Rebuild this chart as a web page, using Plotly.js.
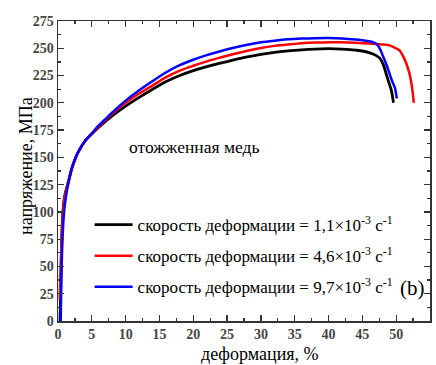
<!DOCTYPE html>
<html>
<head>
<meta charset="utf-8">
<script src="https://cdn.plot.ly/plotly-3.0.1.min.js"></script>
<style>html,body{margin:0;padding:0;background:#fff;}#chart{width:436px;height:365px;}</style>
</head>
<body>
<div id="chart"></div>
<script>
// strain (%) and stress (MPa) for each strain rate
const strainBlack = [0.3, 0.4, 0.5, 0.6, 0.8, 1.0, 1.5, 2.0, 2.5, 3.0, 4.0, 5.0, 6.0, 8.0, 10, 12, 14, 16, 18, 20, 22, 24, 26, 28, 30, 32, 34, 36, 38, 40, 42, 43.2, 44, 45, 46, 47, 47.6, 48.1, 48.5, 48.9, 49.3, 49.6];
const stressBlack = [0, 30, 60, 85, 105, 115, 127, 139, 148, 155, 165, 171.5, 177.5, 188, 197, 205, 212.5, 219.5, 225, 229.5, 233.2, 236.3, 239.4, 242.2, 244.5, 246.3, 247.6, 248.6, 249.3, 249.6, 249.3, 248.8, 248.3, 247.5, 246, 243.5, 240.8, 235, 227, 219, 211, 200];

const strainRed = [0.25, 0.4, 0.6, 0.8, 1.0, 1.5, 2.0, 2.5, 3.0, 4.0, 5.0, 6.0, 8.0, 10, 12, 14, 16, 18, 20, 22, 24, 26, 28, 30, 32, 34, 36, 38, 40, 42, 44, 46, 48, 49, 49.8, 50.5, 51, 51.5, 52, 52.25, 52.45, 52.6];
const stressRed = [20, 50, 85, 105, 114, 127, 139, 148, 155, 165, 171.5, 178, 190, 200, 208.5, 216, 223.5, 229.5, 234, 238, 241.5, 244.8, 247.8, 250.3, 252.2, 253.5, 254.5, 255.2, 255.6, 255.5, 255, 254.3, 253.5, 252.7, 250.5, 248, 243, 236, 226, 218, 209, 200];

const strainBlue = [0.4, 0.5, 0.7, 0.9, 1.2, 1.6, 2.0, 2.5, 3.0, 4.0, 5.0, 6.0, 7.0, 8.0, 10, 12, 14, 16, 18, 20, 22, 24, 26, 28, 30, 32, 34, 36, 38, 40, 42, 44, 45, 46, 46.6, 47.1, 47.6, 48.0, 48.5, 49.0, 49.4, 49.8, 50.1];
const stressBlue = [0, 40, 80, 100, 115, 128, 139, 148, 155, 165, 172, 179, 185, 191, 202, 211.5, 220, 228, 234.5, 239.5, 243.7, 247.3, 250.5, 253.2, 255.5, 257, 258.2, 258.9, 259.3, 259.4, 259, 258, 257.3, 256.5, 255.5, 254, 249.5, 243.6, 236, 227, 220, 214, 204];

const seriesNames = [
  'скорость деформации = 1,1×10<sup>-3</sup> с<sup>-1</sup>',
  'скорость деформации = 4,6×10<sup>-3</sup> с<sup>-1</sup>',
  'скорость деформации = 9,7×10<sup>-3</sup> с<sup>-1</sup>'
];
const xTickVals = [0, 5, 10, 15, 20, 25, 30, 35, 40, 45, 50, 55];
const yTickVals = [0, 25, 50, 75, 100, 125, 150, 175, 200, 225, 250, 275];

const serif = 'Liberation Serif, Times New Roman, serif';

const traces = [
  {x: strainBlack, y: stressBlack, name: seriesNames[0], legendgroup: 'a', line: {color: '#000000', width: 2.8, shape: 'spline', smoothing: 0.8}},
  {x: strainRed, y: stressRed, name: seriesNames[1], legendgroup: 'b', line: {color: '#ff0000', width: 2.5, shape: 'spline', smoothing: 0.8}},
  {x: strainBlue, y: stressBlue, name: seriesNames[2], legendgroup: 'c', line: {color: '#0000ff', width: 2.5, shape: 'spline', smoothing: 0.8}}
].map(t => Object.assign({type: 'scatter', mode: 'lines'}, t));

const axisCommon = {
  showgrid: false, zeroline: false,
  showline: true, linecolor: '#333', linewidth: 1.5, mirror: 'ticks',
  ticks: 'inside', ticklen: 6, tickwidth: 1.3, tickcolor: '#333',
  tickfont: {family: serif, size: 14, color: '#444', weight: 'bold'}
};

const layout = {
  width: 436, height: 365,
  margin: {l: 58, r: 6, t: 21, b: 44},
  paper_bgcolor: '#fff', plot_bgcolor: '#fff',
  showlegend: true,
  xaxis: Object.assign({}, axisCommon, {
    range: [0, 55], tickmode: 'array', tickvals: xTickVals,
    minor: {dtick: 2.5, ticks: 'inside', ticklen: 3, tickwidth: 1.2, tickcolor: '#333'}
  }),
  yaxis: Object.assign({}, axisCommon, {
    range: [0, 275], tickmode: 'array', tickvals: yTickVals,
    minor: {dtick: 12.5, ticks: 'inside', ticklen: 3, tickwidth: 1.2, tickcolor: '#333'}
  }),
  legend: {
    x: 0.085, y: 0.38, xanchor: 'left', yanchor: 'top',
    bgcolor: 'rgba(0,0,0,0)', traceorder: 'grouped', tracegroupgap: 6,
    itemwidth: 38,
    font: {family: serif, size: 17, color: '#000'}
  },
  annotations: [
    {text: 'отожженная медь', xref: 'paper', yref: 'paper', x: (194 - 58) / 372, y: (321 - 147) / 300,
     showarrow: false, font: {family: serif, size: 17.5, color: '#000'}},
    {text: '(b)', xref: 'paper', yref: 'paper', x: (427 - 58) / 372, y: (321 - 302) / 300, xanchor: 'right',
     showarrow: false, font: {family: serif, size: 21, color: '#000'}},
    {text: 'деформация, %', xref: 'paper', yref: 'paper', x: (260 - 58) / 372, y: (321 - 365) / 300, yanchor: 'bottom',
     showarrow: false, borderpad: 0, font: {family: serif, size: 18, color: '#000'}},
    {text: 'напряжение, МПа', xref: 'paper', yref: 'paper', x: (14 - 58) / 372, y: (321 - 166) / 300,
     showarrow: false, textangle: -90, font: {family: serif, size: 18, color: '#000'}}
  ]
};

Plotly.newPlot('chart', traces, layout, {displayModeBar: false, staticPlot: true});
</script>
</body>
</html>
